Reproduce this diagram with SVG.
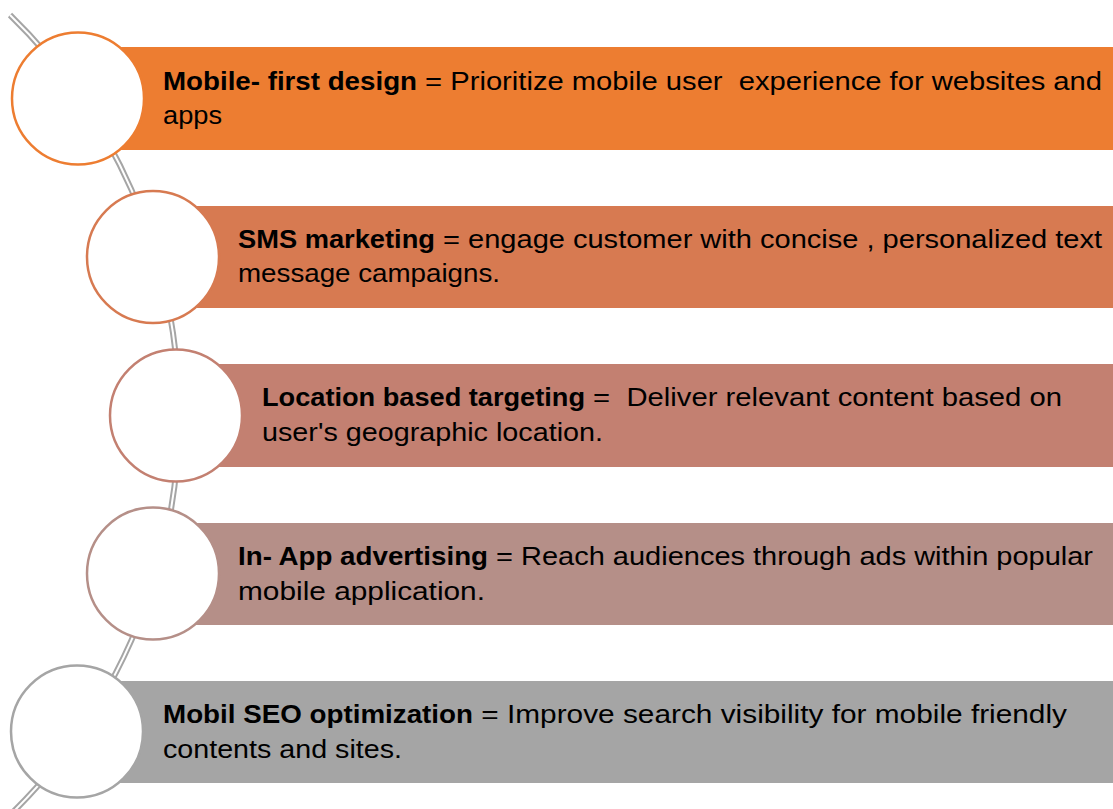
<svg xmlns="http://www.w3.org/2000/svg" width="1113" height="809" viewBox="0 0 1113 809">
<style>
.arcO{fill:none;stroke:#A5A5A5;stroke-width:6;stroke-linecap:butt}
.arcI{fill:none;stroke:#FFFFFF;stroke-width:2;stroke-linecap:butt}
.c{fill:#FFFFFF;stroke-width:2.5}
.t{font-family:"Liberation Sans",Arial,sans-serif;font-size:25px;fill:#000000}
.b{font-weight:bold}
</style>
<rect width="1113" height="809" fill="#FFFFFF"/>
<g id="connectors">
<path class="arcO" d="M 10 15 A 558 558 0 0 1 10 815"/>
<path class="arcI" d="M 10 15 A 558 558 0 0 1 10 815"/>
</g>
<g id="node1">
<rect x="78" y="47" width="1035" height="103" fill="#ED7D31"/>
<circle class="c" cx="78" cy="98.5" r="66" stroke="#ED7D31"/>
<text class="t" xml:space="preserve"><tspan class="b" x="163" y="90" textLength="254" lengthAdjust="spacingAndGlyphs">Mobile- first design</tspan><tspan x="417" y="90" textLength="685" lengthAdjust="spacingAndGlyphs"> = Prioritize mobile user  experience for websites and</tspan></text>
<text class="t" x="163" y="124" textLength="59" lengthAdjust="spacingAndGlyphs">apps</text>
</g>
<g id="node2">
<rect x="153" y="206" width="960" height="102" fill="#D77A51"/>
<circle class="c" cx="153" cy="257" r="66" stroke="#D77A51"/>
<text class="t" xml:space="preserve"><tspan class="b" x="238" y="248" textLength="197" lengthAdjust="spacingAndGlyphs">SMS marketing</tspan><tspan x="435" y="248" textLength="667" lengthAdjust="spacingAndGlyphs"> = engage customer with concise , personalized text</tspan></text>
<text class="t" x="238" y="282" textLength="262" lengthAdjust="spacingAndGlyphs">message campaigns.</text>
</g>
<g id="node3">
<rect x="176" y="364" width="937" height="103" fill="#C38071"/>
<circle class="c" cx="176" cy="415.5" r="66" stroke="#C38071"/>
<text class="t" xml:space="preserve"><tspan class="b" x="262" y="406" textLength="323" lengthAdjust="spacingAndGlyphs">Location based targeting</tspan><tspan x="585" y="406" textLength="477" lengthAdjust="spacingAndGlyphs"> =  Deliver relevant content based on</tspan></text>
<text class="t" x="262" y="441" textLength="341" lengthAdjust="spacingAndGlyphs">user's geographic location.</text>
</g>
<g id="node4">
<rect x="153" y="523" width="960" height="102" fill="#B58F88"/>
<circle class="c" cx="153" cy="573.5" r="66" stroke="#B58F88"/>
<text class="t" xml:space="preserve"><tspan class="b" x="238" y="565" textLength="250" lengthAdjust="spacingAndGlyphs">In- App advertising</tspan><tspan x="488" y="565" textLength="605" lengthAdjust="spacingAndGlyphs"> = Reach audiences through ads within popular</tspan></text>
<text class="t" x="238" y="600" textLength="247" lengthAdjust="spacingAndGlyphs">mobile application.</text>
</g>
<g id="node5">
<rect x="77" y="681" width="1036" height="102" fill="#A5A5A5"/>
<circle class="c" cx="77" cy="731.5" r="66" stroke="#A5A5A5"/>
<text class="t" xml:space="preserve"><tspan class="b" x="163" y="723" textLength="310" lengthAdjust="spacingAndGlyphs">Mobil SEO optimization</tspan><tspan x="473" y="723" textLength="594" lengthAdjust="spacingAndGlyphs"> = Improve search visibility for mobile friendly</tspan></text>
<text class="t" x="163" y="758" textLength="239" lengthAdjust="spacingAndGlyphs">contents and sites.</text>
</g>
</svg>
